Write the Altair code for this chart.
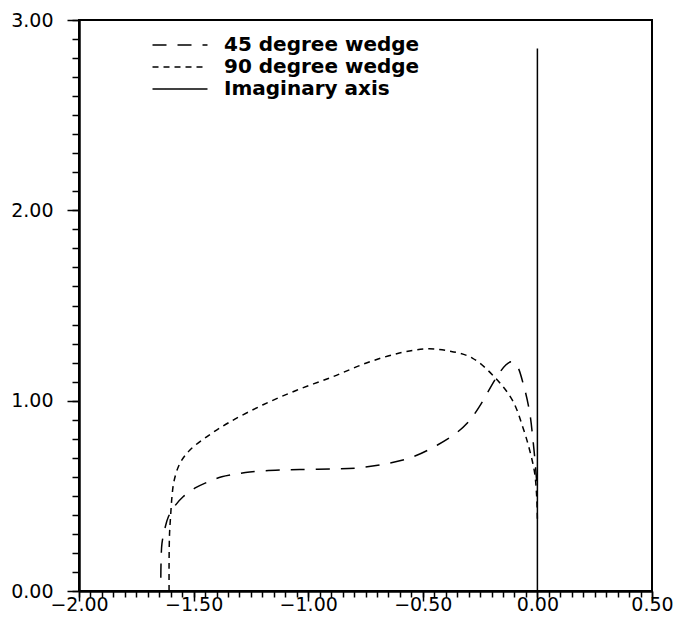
import altair as alt
import pandas as pd

series_names = ["45 degree wedge", "90 degree wedge", "Imaginary axis"]

w45_x = [-1.643, -1.642, -1.638, -1.625, -1.610, -1.580, -1.547, -1.495, -1.438, -1.377,
         -1.312, -1.255, -1.190, -1.111, -1.037, -0.894, -0.790, -0.667, -0.545, -0.436,
         -0.354, -0.300, -0.254, -0.180, -0.140, -0.114, -0.090, -0.060, -0.034, -0.019,
         -0.007, 0.0]
w45_y = [0.07, 0.15, 0.25, 0.33, 0.39, 0.45, 0.494, 0.54, 0.573, 0.60,
         0.615, 0.625, 0.632, 0.636, 0.638, 0.641, 0.646, 0.667, 0.704, 0.767,
         0.83, 0.89, 0.967, 1.119, 1.185, 1.205, 1.185, 1.08, 0.94, 0.79,
         0.636, 0.52]

w90_x = [-1.607, -1.607, -1.605, -1.600, -1.594, -1.585, -1.560, -1.517, -1.443, -1.342,
         -1.199, -1.050, -0.894, -0.746, -0.602, -0.484, -0.384, -0.284, -0.180, -0.108,
         -0.064, -0.034, -0.012, -0.003, 0.0]
w90_y = [0.0, 0.15, 0.30, 0.40, 0.50, 0.58, 0.67, 0.74, 0.81, 0.888,
         0.977, 1.055, 1.125, 1.198, 1.25, 1.272, 1.261, 1.224, 1.115, 1.0,
         0.862, 0.741, 0.62, 0.494, 0.37]

imag_x = [0.0, 0.0]
imag_y = [0.0, 2.85]

x_major = [-2.0, -1.5, -1.0, -0.5, 0.0, 0.5]
y_major = [0.0, 1.0, 2.0, 3.0]
x_minor = [round(-2 + 0.05 * i, 2) for i in range(51)]
y_minor = [round(0.1 * i, 1) for i in range(31)]

rows = []
for name, xs, ys in zip(series_names, [w45_x, w90_x, imag_x], [w45_y, w90_y, imag_y]):
    for i, (xv, yv) in enumerate(zip(xs, ys)):
        rows.append({"series": name, "x": xv, "y": yv, "idx": i})
df = pd.DataFrame(rows)

FONT = "DejaVu Sans"
xscale = alt.Scale(domain=[-2, 0.5], nice=False, zero=False)
yscale = alt.Scale(domain=[0, 3], nice=False, zero=False)

lines = alt.Chart(df).mark_line(strokeWidth=1.5, color="black", interpolate="catmull-rom").encode(
    x=alt.X("x:Q", scale=xscale,
            axis=alt.Axis(values=x_major, title=None, grid=False, orient="bottom", tickSize=10,
                          labelExpr="replace(format(datum.value, '.2f'), '-', '\u2212')",
                          labelOverlap=False, labelFlush=False, labelPadding=-6)),
    y=alt.Y("y:Q", scale=yscale,
            axis=alt.Axis(values=y_major, title=None, grid=False, orient="left", tickSize=12,
                          format=".2f", labelOverlap=False, labelFlush=False, labelPadding=14)),
    strokeDash=alt.StrokeDash("series:N",
                              scale=alt.Scale(domain=series_names, range=[[14, 11], [6, 5], [1, 0]]),
                              legend=alt.Legend(title=None, orient="none", legendX=91, legendY=15,
                                                symbolType="M-3,0H3", symbolSize=336,
                                                symbolStrokeColor="black", symbolStrokeWidth=1.5,
                                                symbolFillColor="transparent",
                                                labelFont=FONT, labelFontSize=20, labelFontWeight="bold",
                                                labelColor="black", labelOffset=34, rowPadding=2,
                                                padding=0, labelLimit=400)),
    order=alt.Order("idx:Q"),
)

minor = alt.Chart(df).mark_line(strokeOpacity=0).encode(
    x=alt.X("x:Q", scale=xscale,
            axis=alt.Axis(values=x_minor, title=None, grid=False, orient="bottom", tickSize=6,
                          labels=False)),
    y=alt.Y("y:Q", scale=yscale,
            axis=alt.Axis(values=y_minor, title=None, grid=False, orient="left", tickSize=7,
                          labels=False)),
    detail="series:N",
    order=alt.Order("idx:Q"),
)

chart = alt.layer(lines, minor).resolve_scale(
    x="independent", y="independent"
).properties(
    width=573, height=571,
    autosize=alt.AutoSizeParams(type="none"),
    padding={"left": 79, "top": 20, "right": 24, "bottom": 34},
    background="white",
).configure_view(
    stroke="black", strokeWidth=2
).configure_axis(
    labelFont=FONT, labelFontSize=19, labelColor="black",
    tickColor="black", tickWidth=1.5, domainColor="black", domainWidth=2,
)

chart.save("out.html", embed_options={"renderer": "svg", "actions": False})
